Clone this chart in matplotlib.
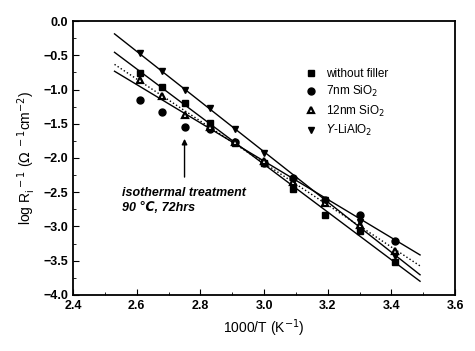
import numpy as np
import matplotlib.pyplot as plt
from matplotlib.ticker import MultipleLocator

plt.rcParams['font.family'] = ['Liberation Sans', 'DejaVu Sans']

# 1000/T values (K^-1)
x = [2.61, 2.68, 2.75, 2.83, 2.91, 3.00, 3.09, 3.19, 3.30, 3.41]

# log R_i^-1 for each electrolyte
no_filler = [-0.76, -0.96, -1.20, -1.49, -1.78, -2.07, -2.46, -2.84, -3.06, -3.52]
sio2_7nm = [-1.15, -1.33, -1.55, -1.58, -1.76, -2.07, -2.30, -2.62, -2.83, -3.21]
sio2_12nm = [-0.86, -1.10, -1.37, -1.55, -1.77, -2.04, -2.35, -2.66, -2.98, -3.36]
lialo2 = [-0.47, -0.73, -1.00, -1.27, -1.57, -1.93, -2.31, -2.62, -2.93, -3.43]

# (values, marker, fit line style, label, first point used for the fit)
SERIES = [
    (no_filler, 's', '-', 'without filler', 0),
    (sio2_7nm, 'o', '-', '7nm SiO$_2$', 3),   # first 3 points: isothermal treatment
    (sio2_12nm, '^', ':', '12nm SiO$_2$', 0),
    (lialo2, 'v', '-', r'$\mathit{Y}$-LiAlO$_2$', 0),
]

fig = plt.figure(figsize=(4.75, 3.51), dpi=100)
ax = fig.add_axes([0.154, 0.160, 0.804, 0.780])

xf = np.array([2.53, 3.49])
for ys, mk, ls, lab, i0 in SERIES:
    if mk == '^':
        ax.plot(x, ys, mk, ms=4.5, mfc='white', mec='black', mew=1.6,
                label=lab, zorder=3)
    else:
        ax.plot(x, ys, mk, ms=5, mfc='black', mec='black', label=lab, zorder=3)
    k, b = np.polyfit(x[i0:], ys[i0:], 1)
    ax.plot(xf, k * xf + b, color='black', lw=1.0, ls=ls, zorder=2)

ax.set_xlim(2.4, 3.6)
ax.set_ylim(-4.0, 0.0)
ax.xaxis.set_major_locator(MultipleLocator(0.2))
ax.xaxis.set_minor_locator(MultipleLocator(0.1))
ax.yaxis.set_major_locator(MultipleLocator(0.5))
ax.yaxis.set_minor_locator(MultipleLocator(0.25))
ax.tick_params(which='both', direction='in', labelsize=9)
ax.tick_params(which='major', length=4)
ax.tick_params(which='minor', length=2)
for lab in ax.get_xticklabels() + ax.get_yticklabels():
    lab.set_fontweight('bold')
for sp in ax.spines.values():
    sp.set_linewidth(1.3)

ax.set_xlabel('1000/T (K$^{-1}$)', fontsize=10)
ax.set_ylabel(r'log R$_\mathrm{i}^{\ -1}$ ($\Omega^{\ -1}$cm$^{-2}$)', fontsize=10)

ax.annotate('', xy=(2.75, -1.68), xytext=(2.75, -2.32),
            arrowprops=dict(arrowstyle='-|>', color='black', lw=1.0,
                            mutation_scale=8))
ax.text(2.555, -2.43, 'isothermal treatment\n90 \u2103, 72hrs', fontsize=9,
        fontweight='bold', style='italic', va='top', linespacing=1.3)

ax.legend(loc='upper left', bbox_to_anchor=(0.595, 0.845), frameon=False,
          fontsize=8.5, handletextpad=0.8, labelspacing=0.35,
          handlelength=1.0, borderaxespad=0)

fig.savefig('out.png', dpi=100)
